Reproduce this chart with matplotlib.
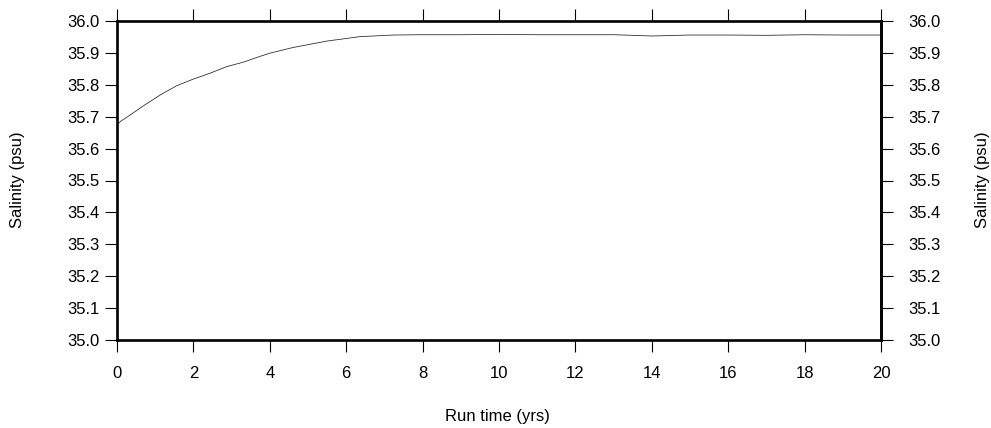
import matplotlib
matplotlib.use("Agg")
import matplotlib.pyplot as plt

plt.rcParams['font.family'] = ['Liberation Sans', 'DejaVu Sans']

# run time (years) and mean salinity
years = [0, 0.1, 0.34, 0.69, 1.13, 1.56, 2.0, 2.43, 2.87, 3.31, 3.74, 4.0,
         4.61, 5.49, 6.36, 7.23, 7.93, 9, 10, 11, 12, 13, 14, 15, 16, 17,
         18, 19, 20]
salinity = [35.674, 35.686, 35.705, 35.734, 35.768, 35.797, 35.818, 35.836,
            35.857, 35.871, 35.889, 35.899, 35.917, 35.937, 35.951, 35.956,
            35.957, 35.957, 35.958, 35.957, 35.957, 35.957, 35.953, 35.956,
            35.956, 35.955, 35.957, 35.956, 35.956]

xticks = list(range(0, 21, 2))
yticks = [35.0 + 0.1 * i for i in range(11)]
ylabels = [f"{v:.1f}" for v in yticks]

fig = plt.figure(figsize=(9.91, 4.28), dpi=100)
ax = fig.add_axes([117 / 991, 1 - 340 / 428, (881 - 117) / 991, (340 - 21) / 428])

ax.plot(years, salinity, color='#333333', lw=0.6)

ax.set_xlim(0, 20)
ax.set_ylim(35.0, 36.0)
ax.set_xticks(xticks)
ax.set_yticks(yticks)
ax.set_yticklabels(ylabels)

for s in ax.spines.values():
    s.set_linewidth(1.9)

ax.tick_params(axis='both', direction='out', length=8.6, width=0.8,
               labelsize=12, top=True, right=False)
ax.tick_params(axis='x', pad=10)
ax.tick_params(axis='y', pad=4)

# right axis: same scale, labels a little further out
sec = ax.secondary_yaxis('right')
sec.set_yticks(yticks)
sec.set_yticklabels(ylabels)
sec.tick_params(direction='out', length=8.6, width=0.8, labelsize=12, pad=11)
sec.spines['right'].set_linewidth(1.9)

fig.text(445 / 991, 1 - 416 / 428, "Run time (yrs)", fontsize=12,
         ha='left', va='center')
fig.text(18 / 991, 1 - 180 / 428, "Salinity (psu)", fontsize=12,
         rotation=90, ha='center', va='center')
fig.text(983 / 991, 1 - 180 / 428, "Salinity (psu)", fontsize=12,
         rotation=90, ha='center', va='center')

fig.savefig("out.png", dpi=100)
